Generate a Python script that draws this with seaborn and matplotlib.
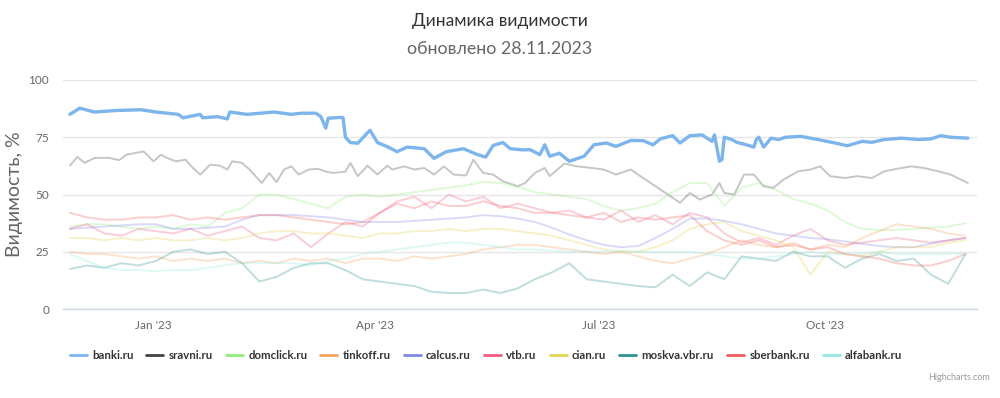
import numpy as np
import pandas as pd
import matplotlib
matplotlib.use("Agg")
import matplotlib.pyplot as plt
import matplotlib.dates as mdates
from matplotlib.lines import Line2D
import seaborn as sns

START = "2022-11-28"

# ---- data ----
banki_days = [0, 4, 10, 19, 29, 35, 44, 46, 53, 54, 60, 64, 65, 72, 83, 90, 94, 100, 102,
              104, 105, 109, 111, 112, 114, 117, 121, 122, 125, 129, 133, 137, 144, 148,
              153, 160, 165, 169, 172, 176, 179, 184, 187, 191, 193, 195, 199, 203, 209,
              213, 218, 222, 228, 233, 237, 240, 245, 248, 252, 257, 261, 262, 264, 265,
              266, 269, 271, 275, 278, 279, 280, 282, 285, 288, 291, 297, 304, 311, 316,
              322, 326, 331, 338, 345, 350, 354, 358, 365]
banki_vals = [85, 87.7, 86, 86.7, 87, 86, 85, 83.5, 85, 83.5, 84, 83, 86, 85, 86, 85, 85.5, 85.5, 84,
              79, 83.3, 83.6, 83.6, 75, 72.7, 72.4, 77, 78, 72.7, 70.9, 68.7, 70.7, 70, 65.8,
              68.7, 70, 67.7, 66.3, 71.4, 72.7, 70, 69.5, 69.6, 67.4, 71.7, 66.7, 68, 64.5, 66.7,
              71.7, 72.5, 71, 73.6, 73.5, 71.7, 74.3, 75.7, 72.5, 75.7, 76, 73.2, 76, 64.5, 65.2,
              75, 74, 72.8, 71.7, 70.7, 74, 75, 70.7, 74.6, 74, 75, 75.4, 74, 72.5, 71.3,
              73.2, 72.8, 74, 74.6, 74, 74.3, 75.7, 75, 74.6]

sravni_days = [0, 3, 6, 10, 16, 20, 23, 26, 30, 34, 37, 39, 43, 47, 50, 53, 57, 61, 64, 66, 70,
               73, 78, 81, 84, 87, 90, 93, 97, 101, 104, 107, 112, 114, 117, 121, 125, 129, 131,
               136, 140, 144, 148, 152, 156, 161, 164, 168, 172, 176, 182, 185, 189, 193, 195,
               201, 206, 212, 217, 222, 228, 233, 239, 244, 248, 252, 256, 261, 264, 266, 270,
               274, 278, 282, 286, 290, 296, 301, 305, 309, 315, 320, 326, 331, 336, 342, 347,
               353, 358, 365]
sravni_vals = [62.6, 66.4, 63.8, 66, 66, 65, 67.4, 68, 68.8, 64.5, 67.4, 66.2, 64.5, 65.2, 61.6,
               58.7, 63, 62.6, 60.9, 64.5, 63.8, 60.9, 55, 59.4, 55.4, 60.9, 62.3, 58.7, 60.9,
               61.2, 60, 59.4, 60, 63.8, 58, 62.6, 58.7, 62.6, 60.9, 62.3, 60.9, 61.6, 58.7,
               62.3, 58.7, 58.3, 65.2, 59.4, 58.7, 55.8, 53.6, 55, 59.4, 61.6, 58, 63.5, 62.3,
               61.6, 60.9, 58.7, 60.9, 57.2, 52.9, 49.3, 46.4, 50.7, 47.8, 50, 55, 50.7, 50,
               58.7, 58.7, 53.6, 52.9, 56.5, 60.1, 60.9, 62.3, 58, 57.2, 58, 57.2, 60.1, 61.2,
               62.3, 61.6, 60.1, 58.7, 55]

# weekly readings (day 0, 7, 14, ... 364)
week_days = list(range(0, 365, 7))
domclick = [36, 37, 37, 36, 35, 36, 35, 37, 36, 42, 44, 50, 50, 48, 46, 44, 49, 50, 49, 50, 51,
            52, 53, 54, 55.5, 55, 53.5, 51, 50, 49, 48, 45, 43, 44, 46, 51, 55, 55, 45, 53, 55,
            52, 48, 46, 43, 38, 35, 34.5, 34.5, 35, 35.5, 36, 37.5]
tinkoff = [25, 24, 24, 23, 22, 23, 21, 22, 21, 22, 20, 21, 20, 22, 21, 22, 20, 22, 22, 21, 23,
           22, 23, 24, 26, 27, 28, 28, 27, 26, 25, 24, 25, 23, 21, 20, 22, 24, 27, 30, 28, 27,
           29, 26, 28, 27, 31, 34, 37, 36, 35, 33, 32]
calcus = [35, 35.5, 36, 36.5, 37, 37, 35, 35, 35.5, 36, 39, 41, 41, 41, 40.5, 40, 39, 38, 38,
          38, 38.5, 39, 39.5, 40, 41, 40.5, 39.5, 38, 35.5, 32.5, 30, 28, 27, 27.5, 31, 35,
          39.5, 39.5, 38.5, 37, 35, 33, 32, 31, 30.5, 29.5, 28.5, 27.5, 27, 27, 28.5, 30, 31]
vtb = [35, 37, 33, 32, 35, 34, 33, 35, 32, 34, 36, 31, 30, 33, 27, 33, 38, 36, 42, 47, 49, 44,
       50, 47, 49, 44, 46, 44, 42, 43, 40, 39, 43, 38, 41, 37, 42, 40, 33, 29, 31, 28, 32, 35,
       30, 28, 29, 30, 31, 30, 29, 30, 31]
cian = [31, 31, 30, 31, 30, 31, 30, 30, 31, 30, 31, 33, 34, 34, 33, 33, 32, 31, 33, 33, 34, 34,
        35, 34, 35, 35, 34, 33, 32, 30, 28, 26, 25, 25, 27, 30, 35, 37, 38, 34, 32, 30, 27, 15,
        25, 24, 23, 25, 27, 27, 27, 29, 30]
moskva = [17.5, 19, 18, 20, 19, 21, 25, 26, 24, 25, 20, 12, 14, 18, 20, 20, 17, 13, 12, 11, 10,
          7.5, 7, 7, 8.5, 7, 9, 13, 16, 20, 13, 12, 11, 10, 9.5, 15, 10, 16, 13, 23, 22, 21, 25,
          23, 23, 18, 22, 24, 21, 22, 15, 11, 24]
sberbank = [42, 40, 39, 39, 40, 40, 41, 39, 40, 39, 40, 41, 41, 40, 39, 38, 37, 38, 42, 46, 44,
            47, 45, 45, 47, 45, 44, 42, 42, 41, 40, 42, 38, 40, 39, 40, 41, 34, 30, 28, 30, 27,
            28, 26, 27, 24, 23, 22, 20, 19, 19, 21, 24]
alfabank = [24, 21, 18, 17, 17, 16.5, 17, 17, 18, 19, 20, 20, 20, 20, 19, 21, 22, 24, 25, 26, 27,
            28, 29, 29, 28, 27, 26, 26, 25.5, 25, 25, 25, 25.5, 25, 25, 25, 25, 24, 23, 22, 22,
            23, 24, 25, 24, 24, 24, 25, 24, 24, 24, 24, 24]

names = ["banki.ru", "sravni.ru", "domclick.ru", "tinkoff.ru", "calcus.ru", "vtb.ru",
         "cian.ru", "moskva.vbr.ru", "sberbank.ru", "alfabank.ru"]
colors = ["#7cb5ec", "#434348", "#90ed7d", "#f7a35c", "#8085e9", "#f15c80",
          "#e4d354", "#2b908f", "#f45b5b", "#91e8e1"]

series = {
    "banki.ru": (banki_days, banki_vals),
    "sravni.ru": (sravni_days, sravni_vals),
    "domclick.ru": (week_days, domclick),
    "tinkoff.ru": (week_days, tinkoff),
    "calcus.ru": (week_days, calcus),
    "vtb.ru": (week_days, vtb),
    "cian.ru": (week_days, cian),
    "moskva.vbr.ru": (week_days, moskva),
    "sberbank.ru": (week_days, sberbank),
    "alfabank.ru": (week_days, alfabank),
}

sns.set_theme(style="white")
plt.rcParams["font.family"] = ["Lato", "DejaVu Sans"]

fig = plt.figure(figsize=(10, 3.98), dpi=100)
ax = fig.add_axes([0.063, 0.2236, 0.914, 0.5754])

start = pd.Timestamp(START)
for name, col in zip(names, colors):
    d, v = series[name]
    df = pd.DataFrame({"date": start + pd.to_timedelta(d, unit="D"), "value": v})
    if name == "banki.ru":
        sns.lineplot(data=df, x="date", y="value", ax=ax, color=col, lw=2.4, zorder=5)
    else:
        sns.lineplot(data=df, x="date", y="value", ax=ax, color=col, lw=1.4, alpha=0.3, zorder=2)

ax.set_ylim(0, 100)
ax.set_yticks([0, 25, 50, 75, 100])
ax.set_xlim(start - pd.Timedelta(days=2.8), start + pd.Timedelta(days=368.7))
ticks = pd.to_datetime(["2023-01-01", "2023-04-01", "2023-07-01", "2023-10-01"])
ax.set_xticks(ticks)
ax.set_xticklabels(["Jan '23", "Apr '23", "Jul '23", "Oct '23"])
ax.grid(axis="y", color="#e6e6e6", lw=1)
ax.grid(axis="x", visible=False)
for s in ["top", "right", "left"]:
    ax.spines[s].set_visible(False)
ax.spines["bottom"].set_color("#ccd6eb")
ax.spines["bottom"].set_linewidth(1)
ax.tick_params(axis="x", colors="#666666", labelsize=8.5, length=7, width=1, direction="out",
               pad=1)
ax.tick_params(axis="x", color="#ccd6eb")
ax.tick_params(axis="y", colors="#666666", labelsize=8.5, length=0, pad=10)
ax.set_xlabel("")
ax.set_ylabel("Видимость, %", fontsize=14, color="#666666")
ax.yaxis.set_label_coords(-0.044, 0.5)

fig.text(0.5, 0.948, "Динамика видимости", ha="center", va="center", fontsize=12.5,
         color="#333333")
fig.text(0.5, 0.878, "обновлено 28.11.2023", ha="center", va="center", fontsize=12.8,
         color="#666666")

handles = [Line2D([0], [0], color=c, lw=2) for c in colors]
leg = fig.legend(handles, names, loc="center", bbox_to_anchor=(0.486, 0.107), ncol=10,
                 frameon=False, fontsize=8.2, handlelength=1.5, handletextpad=0.45,
                 columnspacing=1.15)
for t in leg.get_texts():
    t.set_fontweight("bold")
    t.set_color("#333333")

fig.text(0.99, 0.052, "Highcharts.com", ha="right", va="center", fontsize=6.5, color="#999999")

fig.savefig("out.png", dpi=100)
